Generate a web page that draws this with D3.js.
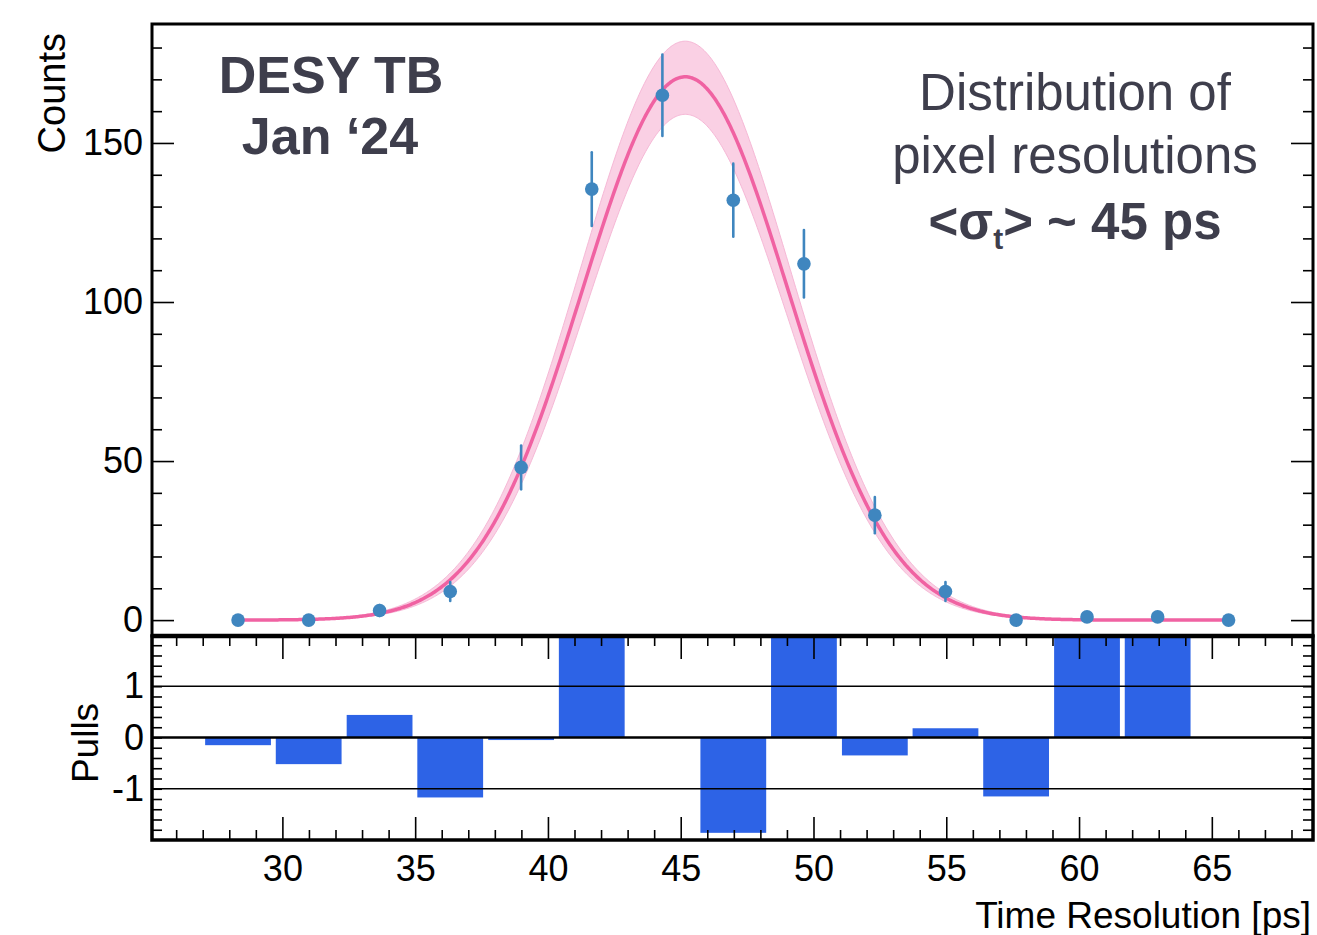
<!DOCTYPE html>
<html>
<head>
<meta charset="utf-8">
<script src="https://cdn.jsdelivr.net/npm/d3@7"></script>
<style>
  body { margin: 0; background: #fff; }
  svg text { font-family: "Liberation Sans", Arial, Helvetica, sans-serif; }
</style>
</head>
<body>
<div id="chart"></div>
<script>
// bin centres [ps], counts and their errors
var binCenters = [28.33, 30.99, 33.66, 36.32, 38.99, 41.65, 44.31, 46.98, 49.64, 52.31, 54.97, 57.63, 60.30, 62.96, 65.63];
var binWidth = 2.664;
var counts = [0, 0, 3, 9, 48, 135.5, 165, 132, 112, 33, 9, 0, 1, 1, 0];
var countErrors = [0, 0, 1.7, 3, 6.9, 11.6, 12.8, 11.5, 10.6, 5.7, 3, 0, 1, 1, 0];
// pulls per bin (values above the panel are clipped in the original)
var pulls = [-0.15, -0.52, 0.44, -1.17, -0.05, 2.3, 0, -1.86, 2.3, -0.35, 0.18, -1.15, 3, 3, 0];

// gaussian fit: central curve and the upper / lower edge of the band
var fitMean = 45.17;
var fitCentral = { amp: 170.8, sigma: 3.88 };
var fitUpper = { amp: 182, sigma: 3.95 };
var fitLower = { amp: 159, sigma: 3.81 };

var xMajorTicks = [30, 35, 40, 45, 50, 55, 60, 65];
var countTicks = [0, 50, 100, 150];
var pullTicks = [-1, 0, 1];

var size = { width: 1317, height: 935 };
var main = { left: 152, right: 1313, top: 24, bottom: 636 };
var pull = { top: 636, bottom: 840 };

var svg = d3.select("#chart").append("svg")
  .attr("width", size.width)
  .attr("height", size.height);

var x = d3.scaleLinear().domain([25.09, 68.81]).range([main.left, main.right]);
var y = d3.scaleLinear().domain([-5, 187.4]).range([main.bottom, main.top]);
var yp = d3.scaleLinear().domain([-2.0, 1.98]).range([pull.bottom, pull.top]);

var defs = svg.append("defs");
defs.append("clipPath").attr("id", "clipMain").append("rect")
  .attr("x", main.left).attr("y", main.top)
  .attr("width", main.right - main.left).attr("height", main.bottom - main.top);
defs.append("clipPath").attr("id", "clipPull").append("rect")
  .attr("x", main.left).attr("y", pull.top)
  .attr("width", main.right - main.left).attr("height", pull.bottom - pull.top);

function gauss(p) {
  return function(t) { return p.amp * Math.exp(-(t - fitMean) * (t - fitMean) / (2 * p.sigma * p.sigma)); };
}
var xs = d3.range(28.33, 65.64, 0.05);

// ---- main panel ----
var gMain = svg.append("g").attr("clip-path", "url(#clipMain)");

var band = d3.area()
  .x(function(d) { return x(d); })
  .y0(function(d) { return y(gauss(fitLower)(d)); })
  .y1(function(d) { return y(gauss(fitUpper)(d)); });
gMain.append("path").datum(xs)
  .attr("d", band)
  .attr("fill", "#fad0e4")
  .attr("stroke", "#f6b8d6")
  .attr("stroke-width", 1);

var line = d3.line()
  .x(function(d) { return x(d); })
  .y(function(d) { return y(gauss(fitCentral)(d)); });
gMain.append("path").datum(xs)
  .attr("d", line)
  .attr("fill", "none")
  .attr("stroke", "#f062a2")
  .attr("stroke-width", 3.5);

var pts = binCenters.map(function(c, i) { return { x: c, y: counts[i], e: countErrors[i] }; });

gMain.append("g").selectAll("line")
  .data(pts.filter(function(d) { return d.e > 0; }))
  .enter().append("line")
  .attr("x1", function(d) { return x(d.x); })
  .attr("x2", function(d) { return x(d.x); })
  .attr("y1", function(d) { return y(d.y - d.e); })
  .attr("y2", function(d) { return y(d.y + d.e); })
  .attr("stroke", "#3f86bf")
  .attr("stroke-width", 2.6)
  .attr("stroke-linecap", "round");

gMain.append("g").selectAll("circle")
  .data(pts)
  .enter().append("circle")
  .attr("cx", function(d) { return x(d.x); })
  .attr("cy", function(d) { return y(d.y); })
  .attr("r", 6.8)
  .attr("fill", "#3f86bf");

// y axis ticks (left with labels, right mirrored)
function styleAxis(g) {
  g.select(".domain").remove();
  g.selectAll(".tick line").attr("stroke", "#000").attr("stroke-width", 1.6);
  g.selectAll(".tick text").attr("fill", "#000").style("font-size", "36px");
}
var countMinor = d3.range(10, 190, 10).filter(function(v) { return v % 50; });
svg.append("g").attr("transform", "translate(" + main.left + ",0)")
  .call(d3.axisLeft(y).tickValues(countTicks).tickSize(-22).tickPadding(9))
  .call(styleAxis);
svg.append("g").attr("transform", "translate(" + main.left + ",0)")
  .call(d3.axisLeft(y).tickValues(countMinor).tickSize(-10).tickFormat(""))
  .call(styleAxis);
svg.append("g").attr("transform", "translate(" + main.right + ",0)")
  .call(d3.axisRight(y).tickValues(countTicks).tickSize(-22).tickFormat(""))
  .call(styleAxis);
svg.append("g").attr("transform", "translate(" + main.right + ",0)")
  .call(d3.axisRight(y).tickValues(countMinor).tickSize(-10).tickFormat(""))
  .call(styleAxis);

// ---- pulls panel ----
var gPull = svg.append("g").attr("clip-path", "url(#clipPull)");
gPull.append("g").selectAll("rect")
  .data(binCenters.map(function(c, i) { return { x: c, p: pulls[i] }; }).filter(function(d) { return d.p !== 0; }))
  .enter().append("rect")
  .attr("x", function(d) { return x(d.x - binWidth * 0.465); })
  .attr("width", function(d) { return x(d.x + binWidth * 0.465) - x(d.x - binWidth * 0.465); })
  .attr("y", function(d) { return yp(Math.max(0, d.p)); })
  .attr("height", function(d) { return Math.abs(yp(d.p) - yp(0)); })
  .attr("fill", "#2d63e6");

svg.append("g").selectAll("line")
  .data(pullTicks)
  .enter().append("line")
  .attr("x1", main.left).attr("x2", main.right)
  .attr("y1", function(d) { return yp(d); })
  .attr("y2", function(d) { return yp(d); })
  .attr("stroke", "#000")
  .attr("stroke-width", function(d) { return d === 0 ? 2.4 : 1.5; });

var xMinor = d3.range(26, 69, 1).filter(function(v) { return v % 5; });
svg.append("g").attr("transform", "translate(0," + pull.top + ")")
  .call(d3.axisTop(x).tickValues(xMajorTicks).tickSize(-23).tickFormat(""))
  .call(styleAxis);
svg.append("g").attr("transform", "translate(0," + pull.top + ")")
  .call(d3.axisTop(x).tickValues(xMinor).tickSize(-10).tickFormat(""))
  .call(styleAxis);
svg.append("g").attr("transform", "translate(0," + pull.bottom + ")")
  .call(d3.axisBottom(x).tickValues(xMajorTicks).tickSize(-23).tickPadding(15))
  .call(styleAxis);
svg.append("g").attr("transform", "translate(0," + pull.bottom + ")")
  .call(d3.axisBottom(x).tickValues(xMinor).tickSize(-10).tickFormat(""))
  .call(styleAxis);

var pullMinor = d3.range(-18, 20, 2).map(function(v) { return v / 10; });
svg.append("g").attr("transform", "translate(" + main.left + ",0)")
  .call(d3.axisLeft(yp).tickValues(pullMinor).tickSize(-10).tickFormat(""))
  .call(styleAxis);
svg.append("g").attr("transform", "translate(" + main.left + ",0)")
  .call(d3.axisLeft(yp).tickValues(pullTicks).tickSize(0).tickPadding(8).tickFormat(function(d) { return String(d); }))
  .call(styleAxis);
svg.append("g").attr("transform", "translate(" + main.right + ",0)")
  .call(d3.axisRight(yp).tickValues(pullMinor).tickSize(-10).tickFormat(""))
  .call(styleAxis);

// frames
svg.append("rect")
  .attr("x", main.left).attr("y", main.top)
  .attr("width", main.right - main.left).attr("height", main.bottom - main.top)
  .attr("fill", "none").attr("stroke", "#000").attr("stroke-width", 3);
svg.append("rect")
  .attr("x", main.left).attr("y", pull.top)
  .attr("width", main.right - main.left).attr("height", pull.bottom - pull.top)
  .attr("fill", "none").attr("stroke", "#000").attr("stroke-width", 3.5);
svg.append("line")
  .attr("x1", main.left).attr("x2", main.right)
  .attr("y1", pull.top).attr("y2", pull.top)
  .attr("stroke", "#000").attr("stroke-width", 4.5);

// axis titles
svg.append("text")
  .attr("transform", "translate(65,33) rotate(-90)")
  .attr("text-anchor", "end")
  .style("font-size", "38px")
  .text("Counts");
svg.append("text")
  .attr("transform", "translate(98,743) rotate(-90)")
  .attr("text-anchor", "middle")
  .style("font-size", "37px")
  .text("Pulls");
svg.append("text")
  .attr("x", 1311).attr("y", 928)
  .attr("text-anchor", "end")
  .style("font-size", "37px")
  .text("Time Resolution [ps]");

// annotations
var ink = "#3e3e4c";
svg.append("text")
  .attr("x", 331).attr("y", 93)
  .attr("text-anchor", "middle")
  .attr("fill", ink)
  .style("font-size", "52px").style("font-weight", "bold")
  .text("DESY TB");
svg.append("text")
  .attr("x", 330).attr("y", 154)
  .attr("text-anchor", "middle")
  .attr("fill", ink)
  .style("font-size", "52px").style("font-weight", "bold")
  .text("Jan \u201824");

svg.append("text")
  .attr("x", 1075).attr("y", 110)
  .attr("text-anchor", "middle")
  .attr("fill", ink)
  .style("font-size", "51px")
  .text("Distribution of");
svg.append("text")
  .attr("x", 1075).attr("y", 173)
  .attr("text-anchor", "middle")
  .attr("fill", ink)
  .style("font-size", "51px")
  .text("pixel resolutions");
var sig = svg.append("text")
  .attr("x", 1075).attr("y", 239)
  .attr("text-anchor", "middle")
  .attr("fill", ink)
  .style("font-size", "51px").style("font-weight", "bold");
sig.append("tspan").text("<\u03c3");
sig.append("tspan").attr("dy", 10).style("font-size", "30px").text("t");
sig.append("tspan").attr("dy", -10).text("> ~ 45 ps");
</script>
</body>
</html>
